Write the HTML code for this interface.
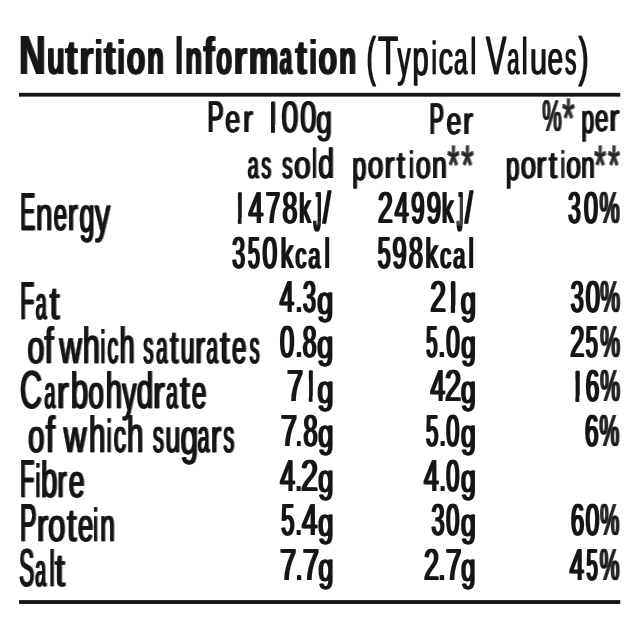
<!DOCTYPE html>
<html><head><meta charset="utf-8"><title>Nutrition Information</title>
<style>
html,body{margin:0;padding:0;background:#fff;}
body{width:640px;height:640px;overflow:hidden;}
svg{display:block;}
text{font-family:"Liberation Sans",sans-serif;fill:#171515;font-kerning:none;letter-spacing:0;white-space:pre;text-rendering:geometricPrecision;}
text.b{font-weight:700;}
text.r{font-weight:400;}
rect{fill:#171515;}
rect.w{fill:#fff;}
</style></head><body>
<svg width="640" height="640" viewBox="0 0 640 640">
<defs><filter id="fhd" filterUnits="userSpaceOnUse" x="0" y="0" width="640" height="640" color-interpolation-filters="sRGB"><feOffset in="SourceGraphic" dx="1" dy="0" result="o1"/><feOffset in="SourceGraphic" dx="2" dy="0" result="p"/><feComponentTransfer in="p" result="pa"><feFuncA type="linear" slope="0.60"/></feComponentTransfer><feMerge><feMergeNode in="pa"/><feMergeNode in="o1"/><feMergeNode in="SourceGraphic"/></feMerge></filter><filter id="flb" filterUnits="userSpaceOnUse" x="0" y="0" width="640" height="640" color-interpolation-filters="sRGB"><feOffset in="SourceGraphic" dx="1" dy="0" result="o1"/><feOffset in="SourceGraphic" dx="2" dy="0" result="p"/><feComponentTransfer in="p" result="pa"><feFuncA type="linear" slope="0.50"/></feComponentTransfer><feMerge><feMergeNode in="pa"/><feMergeNode in="o1"/><feMergeNode in="SourceGraphic"/></feMerge></filter><filter id="fnm" filterUnits="userSpaceOnUse" x="0" y="0" width="640" height="640" color-interpolation-filters="sRGB"><feOffset in="SourceGraphic" dx="1" dy="0" result="o1"/><feOffset in="SourceGraphic" dx="2" dy="0" result="o2"/><feMerge><feMergeNode in="o1"/><feMergeNode in="o2"/><feMergeNode in="SourceGraphic"/></feMerge></filter><filter id="ftb" filterUnits="userSpaceOnUse" x="0" y="0" width="640" height="640" color-interpolation-filters="sRGB"><feOffset in="SourceGraphic" dx="1" dy="0" result="o1"/><feOffset in="SourceGraphic" dx="2" dy="0" result="p"/><feComponentTransfer in="p" result="pa"><feFuncA type="linear" slope="0.80"/></feComponentTransfer><feMerge><feMergeNode in="pa"/><feMergeNode in="o1"/><feMergeNode in="SourceGraphic"/></feMerge></filter><filter id="ftr" filterUnits="userSpaceOnUse" x="0" y="0" width="640" height="640" color-interpolation-filters="sRGB"><feOffset in="SourceGraphic" dx="1" dy="0" result="o1"/><feMerge><feMergeNode in="o1"/><feMergeNode in="SourceGraphic"/></feMerge></filter></defs>
<rect x="19" y="92.85" width="601.25" height="3.8000000000000114"/><rect x="19" y="600.1" width="601.25" height="3.8500000000000227"/>
<text class="b" filter="url(#ftb)"><tspan x="18.14" y="74.10" font-size="55.23" textLength="26.53" lengthAdjust="spacingAndGlyphs">N</tspan><tspan x="46.32" y="74.10" font-size="48.46" textLength="17.52" lengthAdjust="spacingAndGlyphs">u</tspan><tspan x="64.55" y="74.10" font-size="48.46" textLength="12.19" lengthAdjust="spacingAndGlyphs">t</tspan><tspan x="78.17" y="74.10" font-size="48.46" textLength="14.34" lengthAdjust="spacingAndGlyphs">r</tspan><tspan x="94.12" y="74.10" font-size="48.46" textLength="7.49" lengthAdjust="spacingAndGlyphs">i</tspan><tspan x="103.07" y="74.10" font-size="48.46" textLength="11.82" lengthAdjust="spacingAndGlyphs">t</tspan><tspan x="116.62" y="74.10" font-size="48.46" textLength="7.49" lengthAdjust="spacingAndGlyphs">i</tspan><tspan x="125.70" y="74.10" font-size="48.46" textLength="18.69" lengthAdjust="spacingAndGlyphs">o</tspan><tspan x="146.30" y="74.10" font-size="48.46" textLength="16.70" lengthAdjust="spacingAndGlyphs">n</tspan> <tspan x="174.95" y="74.10" font-size="55.23" textLength="6.45" lengthAdjust="spacingAndGlyphs">I</tspan><tspan x="184.45" y="74.10" font-size="48.46" textLength="16.70" lengthAdjust="spacingAndGlyphs">n</tspan><tspan x="202.52" y="74.10" font-size="52.44" textLength="11.21" lengthAdjust="spacingAndGlyphs">f</tspan><tspan x="215.23" y="74.10" font-size="48.46" textLength="15.88" lengthAdjust="spacingAndGlyphs">o</tspan><tspan x="232.71" y="74.10" font-size="48.46" textLength="13.51" lengthAdjust="spacingAndGlyphs">r</tspan><tspan x="247.77" y="74.10" font-size="48.46" textLength="30.02" lengthAdjust="spacingAndGlyphs">m</tspan><tspan x="278.75" y="74.10" font-size="48.46" textLength="12.41" lengthAdjust="spacingAndGlyphs">a</tspan><tspan x="294.58" y="74.10" font-size="48.46" textLength="11.55" lengthAdjust="spacingAndGlyphs">t</tspan><tspan x="308.54" y="74.10" font-size="48.46" textLength="7.39" lengthAdjust="spacingAndGlyphs">i</tspan><tspan x="317.55" y="74.10" font-size="48.46" textLength="18.75" lengthAdjust="spacingAndGlyphs">o</tspan><tspan x="338.16" y="74.10" font-size="48.46" textLength="17.01" lengthAdjust="spacingAndGlyphs">n</tspan></text>
<text class="r" stroke="#171515" stroke-width="0.3" stroke-linejoin="round" filter="url(#ftr)"><tspan x="365.91" y="75.22" font-size="53.99" textLength="9.36" lengthAdjust="spacingAndGlyphs">(</tspan><tspan x="377.51" y="73.95" font-size="54.07" textLength="20.20" lengthAdjust="spacingAndGlyphs">T</tspan><tspan x="396.99" y="75.28" font-size="50.69" textLength="13.17" lengthAdjust="spacingAndGlyphs">y</tspan><tspan x="412.03" y="75.41" font-size="50.06" textLength="16.14" lengthAdjust="spacingAndGlyphs">p</tspan><tspan x="430.91" y="73.95" font-size="46.37" textLength="5.43" lengthAdjust="spacingAndGlyphs">i</tspan><tspan x="438.33" y="73.95" font-size="46.37" textLength="14.38" lengthAdjust="spacingAndGlyphs">c</tspan><tspan x="453.52" y="73.95" font-size="46.37" textLength="13.43" lengthAdjust="spacingAndGlyphs">a</tspan><tspan x="470.07" y="73.95" font-size="51.34" textLength="5.69" lengthAdjust="spacingAndGlyphs">l</tspan> <tspan x="485.62" y="73.95" font-size="54.07" textLength="20.27" lengthAdjust="spacingAndGlyphs">V</tspan><tspan x="506.72" y="73.95" font-size="46.37" textLength="12.13" lengthAdjust="spacingAndGlyphs">a</tspan><tspan x="521.29" y="73.95" font-size="51.34" textLength="5.81" lengthAdjust="spacingAndGlyphs">l</tspan><tspan x="529.40" y="73.95" font-size="46.37" textLength="17.09" lengthAdjust="spacingAndGlyphs">u</tspan><tspan x="547.06" y="73.95" font-size="46.37" textLength="15.53" lengthAdjust="spacingAndGlyphs">e</tspan><tspan x="564.51" y="73.95" font-size="46.37" textLength="11.41" lengthAdjust="spacingAndGlyphs">s</tspan><tspan x="578.07" y="75.22" font-size="53.99" textLength="10.17" lengthAdjust="spacingAndGlyphs">)</tspan></text>
<text class="r" stroke="#171515" stroke-width="0.2" stroke-linejoin="round" filter="url(#fhd)"><tspan x="206.63" y="131.80" font-size="44.19" textLength="16.04" lengthAdjust="spacingAndGlyphs">P</tspan><tspan x="224.56" y="131.80" font-size="38.42" textLength="14.93" lengthAdjust="spacingAndGlyphs">e</tspan><tspan x="242.21" y="131.80" font-size="38.42" textLength="9.98" lengthAdjust="spacingAndGlyphs">r</tspan> <tspan x="267.54" y="130.53" font-size="40.49" textLength="9.01" lengthAdjust="spacingAndGlyphs" stroke="#171515" stroke-width="3.07">1</tspan><tspan x="280.82" y="131.80" font-size="44.19" textLength="16.75" lengthAdjust="spacingAndGlyphs">0</tspan><tspan x="299.57" y="131.80" font-size="44.19" textLength="16.11" lengthAdjust="spacingAndGlyphs">0</tspan><tspan x="315.42" y="132.59" font-size="40.05" textLength="15.58" lengthAdjust="spacingAndGlyphs">g</tspan></text>
<text class="r" stroke="#171515" stroke-width="0.2" stroke-linejoin="round" filter="url(#fhd)"><tspan x="428.84" y="133.50" font-size="44.19" textLength="14.35" lengthAdjust="spacingAndGlyphs">P</tspan><tspan x="445.86" y="133.50" font-size="38.42" textLength="14.87" lengthAdjust="spacingAndGlyphs">e</tspan><tspan x="462.21" y="133.50" font-size="38.42" textLength="9.98" lengthAdjust="spacingAndGlyphs">r</tspan></text>
<text class="r" stroke="#171515" stroke-width="0.2" stroke-linejoin="round" filter="url(#fhd)"><tspan x="541.52" y="131.30" font-size="44.19" textLength="19.46" lengthAdjust="spacingAndGlyphs" fill-opacity="0.85">%</tspan><tspan x="561.49" y="138.39" font-size="56.97" textLength="12.30" lengthAdjust="spacingAndGlyphs" fill-opacity="0.65">*</tspan> <tspan x="580.74" y="133.12" font-size="41.34" textLength="12.61" lengthAdjust="spacingAndGlyphs">p</tspan><tspan x="594.18" y="131.30" font-size="38.42" textLength="13.39" lengthAdjust="spacingAndGlyphs">e</tspan><tspan x="608.41" y="131.30" font-size="38.42" textLength="9.98" lengthAdjust="spacingAndGlyphs">r</tspan></text>
<text class="r" stroke="#171515" stroke-width="0.2" stroke-linejoin="round" filter="url(#fhd)"><tspan x="247.02" y="178.20" font-size="38.42" textLength="10.88" lengthAdjust="spacingAndGlyphs">a</tspan><tspan x="260.67" y="178.20" font-size="38.42" textLength="9.52" lengthAdjust="spacingAndGlyphs">s</tspan> <tspan x="281.43" y="178.20" font-size="38.42" textLength="10.32" lengthAdjust="spacingAndGlyphs">s</tspan><tspan x="293.22" y="178.20" font-size="38.42" textLength="16.67" lengthAdjust="spacingAndGlyphs">o</tspan><tspan x="311.64" y="178.20" font-size="41.95" textLength="3.91" lengthAdjust="spacingAndGlyphs">l</tspan><tspan x="317.61" y="178.20" font-size="41.95" textLength="15.71" lengthAdjust="spacingAndGlyphs">d</tspan></text>
<text class="r" stroke="#171515" stroke-width="0.2" stroke-linejoin="round" filter="url(#fhd)"><tspan x="351.57" y="180.02" font-size="41.34" textLength="14.04" lengthAdjust="spacingAndGlyphs">p</tspan><tspan x="367.03" y="178.20" font-size="38.42" textLength="15.55" lengthAdjust="spacingAndGlyphs">o</tspan><tspan x="383.76" y="178.20" font-size="38.42" textLength="9.98" lengthAdjust="spacingAndGlyphs">r</tspan><tspan x="395.90" y="178.20" font-size="38.42" textLength="8.21" lengthAdjust="spacingAndGlyphs">t</tspan><tspan x="408.76" y="178.20" font-size="38.42" textLength="3.79" lengthAdjust="spacingAndGlyphs">i</tspan><tspan x="415.07" y="178.20" font-size="38.42" textLength="14.96" lengthAdjust="spacingAndGlyphs">o</tspan><tspan x="431.33" y="178.20" font-size="38.42" textLength="14.79" lengthAdjust="spacingAndGlyphs">n</tspan><tspan x="446.81" y="185.29" font-size="56.97" textLength="11.76" lengthAdjust="spacingAndGlyphs" fill-opacity="0.65">*</tspan><tspan x="460.49" y="185.29" font-size="56.97" textLength="12.30" lengthAdjust="spacingAndGlyphs" fill-opacity="0.65">*</tspan></text>
<text class="r" stroke="#171515" stroke-width="0.2" stroke-linejoin="round" filter="url(#fhd)"><tspan x="505.35" y="180.02" font-size="41.34" textLength="13.36" lengthAdjust="spacingAndGlyphs">p</tspan><tspan x="519.94" y="178.20" font-size="38.42" textLength="15.31" lengthAdjust="spacingAndGlyphs">o</tspan><tspan x="535.61" y="178.20" font-size="38.42" textLength="9.98" lengthAdjust="spacingAndGlyphs">r</tspan><tspan x="548.02" y="178.20" font-size="38.42" textLength="8.33" lengthAdjust="spacingAndGlyphs">t</tspan><tspan x="560.26" y="178.20" font-size="38.42" textLength="3.59" lengthAdjust="spacingAndGlyphs">i</tspan><tspan x="565.49" y="178.20" font-size="38.42" textLength="14.72" lengthAdjust="spacingAndGlyphs">o</tspan><tspan x="580.41" y="178.20" font-size="38.42" textLength="13.35" lengthAdjust="spacingAndGlyphs">n</tspan><tspan x="593.51" y="185.29" font-size="56.97" textLength="11.76" lengthAdjust="spacingAndGlyphs" fill-opacity="0.65">*</tspan><tspan x="607.21" y="185.29" font-size="56.97" textLength="11.76" lengthAdjust="spacingAndGlyphs" fill-opacity="0.65">*</tspan></text>
<text class="r" stroke="#171515" stroke-width="0.4" stroke-linejoin="round" filter="url(#flb)"><tspan x="19.45" y="229.70" font-size="53.49" textLength="15.01" lengthAdjust="spacingAndGlyphs">E</tspan><tspan x="35.22" y="229.70" font-size="46.56" textLength="16.56" lengthAdjust="spacingAndGlyphs">n</tspan><tspan x="53.09" y="229.70" font-size="46.56" textLength="13.27" lengthAdjust="spacingAndGlyphs">e</tspan><tspan x="67.11" y="229.70" font-size="46.56" textLength="9.99" lengthAdjust="spacingAndGlyphs">r</tspan><tspan x="78.77" y="231.71" font-size="49.59" textLength="15.03" lengthAdjust="spacingAndGlyphs">g</tspan><tspan x="94.33" y="231.65" font-size="49.87" textLength="15.13" lengthAdjust="spacingAndGlyphs">y</tspan></text>
<text class="r" stroke="#171515" stroke-width="0.2" stroke-linejoin="round" filter="url(#fnm)"><tspan x="233.67" y="222.99" font-size="43.87" textLength="9.76" lengthAdjust="spacingAndGlyphs" stroke="#171515" stroke-width="0.89">1</tspan><tspan x="247.49" y="223.30" font-size="44.77" textLength="14.79" lengthAdjust="spacingAndGlyphs">4</tspan><tspan x="264.77" y="223.30" font-size="44.77" textLength="14.44" lengthAdjust="spacingAndGlyphs">7</tspan><tspan x="281.44" y="223.30" font-size="44.77" textLength="14.82" lengthAdjust="spacingAndGlyphs">8</tspan><tspan x="298.23" y="223.30" font-size="42.51" textLength="11.63" lengthAdjust="spacingAndGlyphs">k</tspan><tspan x="312.67" y="231.25" font-size="56.18" textLength="7.31" lengthAdjust="spacingAndGlyphs">J</tspan><tspan x="321.90" y="223.30" font-size="44.77" textLength="7.60" lengthAdjust="spacingAndGlyphs">/</tspan></text>
<text class="r" stroke="#171515" stroke-width="0.2" stroke-linejoin="round" filter="url(#fnm)"><tspan x="376.96" y="223.30" font-size="44.77" textLength="14.77" lengthAdjust="spacingAndGlyphs">2</tspan><tspan x="393.63" y="223.30" font-size="44.77" textLength="13.91" lengthAdjust="spacingAndGlyphs">4</tspan><tspan x="410.28" y="223.30" font-size="44.77" textLength="13.24" lengthAdjust="spacingAndGlyphs">9</tspan><tspan x="425.80" y="223.30" font-size="44.77" textLength="14.21" lengthAdjust="spacingAndGlyphs">9</tspan><tspan x="441.03" y="223.30" font-size="42.51" textLength="11.63" lengthAdjust="spacingAndGlyphs">k</tspan><tspan x="456.33" y="231.25" font-size="56.18" textLength="5.36" lengthAdjust="spacingAndGlyphs">J</tspan><tspan x="463.90" y="223.30" font-size="44.77" textLength="7.60" lengthAdjust="spacingAndGlyphs">/</tspan></text>
<text class="r" stroke="#171515" stroke-width="0.2" stroke-linejoin="round" filter="url(#fnm)"><tspan x="567.36" y="223.30" font-size="44.77" textLength="12.32" lengthAdjust="spacingAndGlyphs">3</tspan><tspan x="583.02" y="223.30" font-size="44.77" textLength="13.96" lengthAdjust="spacingAndGlyphs">0</tspan><tspan x="598.39" y="223.30" font-size="44.77" textLength="20.22" lengthAdjust="spacingAndGlyphs" fill-opacity="0.85">%</tspan></text>
<text class="r" stroke="#171515" stroke-width="0.2" stroke-linejoin="round" filter="url(#fnm)"><tspan x="231.32" y="267.84" font-size="44.77" textLength="12.79" lengthAdjust="spacingAndGlyphs">3</tspan><tspan x="246.95" y="267.84" font-size="44.77" textLength="11.85" lengthAdjust="spacingAndGlyphs">5</tspan><tspan x="261.47" y="267.84" font-size="44.77" textLength="14.66" lengthAdjust="spacingAndGlyphs">0</tspan><tspan x="279.71" y="267.84" font-size="42.51" textLength="12.56" lengthAdjust="spacingAndGlyphs">k</tspan><tspan x="294.38" y="267.84" font-size="36.91" textLength="10.79" lengthAdjust="spacingAndGlyphs">c</tspan><tspan x="307.50" y="267.84" font-size="36.91" textLength="11.80" lengthAdjust="spacingAndGlyphs">a</tspan><tspan x="323.74" y="267.84" font-size="42.51" textLength="4.80" lengthAdjust="spacingAndGlyphs">l</tspan></text>
<text class="r" stroke="#171515" stroke-width="0.2" stroke-linejoin="round" filter="url(#fnm)"><tspan x="376.87" y="267.84" font-size="44.77" textLength="12.90" lengthAdjust="spacingAndGlyphs">5</tspan><tspan x="391.41" y="267.84" font-size="44.77" textLength="14.09" lengthAdjust="spacingAndGlyphs">9</tspan><tspan x="407.92" y="267.84" font-size="44.77" textLength="13.87" lengthAdjust="spacingAndGlyphs">8</tspan><tspan x="424.51" y="267.84" font-size="42.51" textLength="12.56" lengthAdjust="spacingAndGlyphs">k</tspan><tspan x="439.18" y="267.84" font-size="36.91" textLength="10.79" lengthAdjust="spacingAndGlyphs">c</tspan><tspan x="452.29" y="267.84" font-size="36.91" textLength="11.91" lengthAdjust="spacingAndGlyphs">a</tspan><tspan x="467.74" y="267.84" font-size="42.51" textLength="4.80" lengthAdjust="spacingAndGlyphs">l</tspan></text>
<text class="r" stroke="#171515" stroke-width="0.4" stroke-linejoin="round" filter="url(#flb)"><tspan x="19.42" y="318.70" font-size="53.49" textLength="14.00" lengthAdjust="spacingAndGlyphs">F</tspan><tspan x="34.90" y="318.70" font-size="46.56" textLength="10.88" lengthAdjust="spacingAndGlyphs">a</tspan><tspan x="48.66" y="318.70" font-size="46.56" textLength="10.09" lengthAdjust="spacingAndGlyphs">t</tspan></text>
<text class="r" stroke="#171515" stroke-width="0.2" stroke-linejoin="round" filter="url(#fnm)"><tspan x="278.71" y="312.38" font-size="44.77" textLength="14.24" lengthAdjust="spacingAndGlyphs">4</tspan><tspan x="294.69" y="312.38" font-size="44.77" textLength="6.42" lengthAdjust="spacingAndGlyphs">.</tspan><tspan x="302.02" y="312.38" font-size="44.77" textLength="12.90" lengthAdjust="spacingAndGlyphs">3</tspan><tspan x="316.20" y="313.67" font-size="40.05" textLength="15.95" lengthAdjust="spacingAndGlyphs">g</tspan></text>
<text class="r" stroke="#171515" stroke-width="0.2" stroke-linejoin="round" filter="url(#fnm)"><tspan x="429.18" y="312.38" font-size="44.77" textLength="15.75" lengthAdjust="spacingAndGlyphs">2</tspan><tspan x="447.22" y="311.20" font-size="41.33" textLength="9.19" lengthAdjust="spacingAndGlyphs" stroke="#171515" stroke-width="2.87">1</tspan><tspan x="459.65" y="313.67" font-size="40.05" textLength="15.21" lengthAdjust="spacingAndGlyphs">g</tspan></text>
<text class="r" stroke="#171515" stroke-width="0.2" stroke-linejoin="round" filter="url(#fnm)"><tspan x="569.72" y="312.38" font-size="44.77" textLength="12.90" lengthAdjust="spacingAndGlyphs">3</tspan><tspan x="584.70" y="312.38" font-size="44.77" textLength="14.19" lengthAdjust="spacingAndGlyphs">0</tspan><tspan x="599.31" y="312.38" font-size="44.77" textLength="19.79" lengthAdjust="spacingAndGlyphs" fill-opacity="0.85">%</tspan></text>
<text class="r" stroke="#171515" stroke-width="0.4" stroke-linejoin="round" filter="url(#flb)"><tspan x="26.67" y="363.30" font-size="46.56" textLength="16.90" lengthAdjust="spacingAndGlyphs">o</tspan><tspan x="43.74" y="363.30" font-size="50.79" textLength="9.12" lengthAdjust="spacingAndGlyphs">f</tspan> <tspan x="58.65" y="363.30" font-size="46.56" textLength="22.33" lengthAdjust="spacingAndGlyphs">w</tspan><tspan x="82.06" y="363.30" font-size="50.79" textLength="17.14" lengthAdjust="spacingAndGlyphs">h</tspan><tspan x="99.88" y="363.30" font-size="46.56" textLength="4.34" lengthAdjust="spacingAndGlyphs">i</tspan><tspan x="106.78" y="363.30" font-size="46.56" textLength="10.84" lengthAdjust="spacingAndGlyphs">c</tspan><tspan x="118.95" y="363.30" font-size="50.79" textLength="14.83" lengthAdjust="spacingAndGlyphs">h</tspan> <tspan x="142.74" y="363.30" font-size="46.56" textLength="10.03" lengthAdjust="spacingAndGlyphs">s</tspan><tspan x="155.59" y="363.30" font-size="46.56" textLength="11.31" lengthAdjust="spacingAndGlyphs">a</tspan><tspan x="169.14" y="363.30" font-size="46.56" textLength="8.38" lengthAdjust="spacingAndGlyphs">t</tspan><tspan x="179.98" y="363.30" font-size="46.56" textLength="13.88" lengthAdjust="spacingAndGlyphs">u</tspan><tspan x="194.47" y="363.30" font-size="46.56" textLength="9.92" lengthAdjust="spacingAndGlyphs">r</tspan><tspan x="205.72" y="363.30" font-size="46.56" textLength="11.48" lengthAdjust="spacingAndGlyphs">a</tspan><tspan x="219.37" y="363.30" font-size="46.56" textLength="9.79" lengthAdjust="spacingAndGlyphs">t</tspan><tspan x="231.30" y="363.30" font-size="46.56" textLength="14.40" lengthAdjust="spacingAndGlyphs">e</tspan><tspan x="248.89" y="363.30" font-size="46.56" textLength="9.78" lengthAdjust="spacingAndGlyphs">s</tspan></text>
<text class="r" stroke="#171515" stroke-width="0.2" stroke-linejoin="round" filter="url(#fnm)"><tspan x="279.00" y="356.92" font-size="44.77" textLength="14.19" lengthAdjust="spacingAndGlyphs">0</tspan><tspan x="294.69" y="356.92" font-size="44.77" textLength="6.42" lengthAdjust="spacingAndGlyphs">.</tspan><tspan x="301.83" y="356.92" font-size="44.77" textLength="13.75" lengthAdjust="spacingAndGlyphs">8</tspan><tspan x="316.20" y="358.21" font-size="40.05" textLength="15.95" lengthAdjust="spacingAndGlyphs">g</tspan></text>
<text class="r" stroke="#171515" stroke-width="0.2" stroke-linejoin="round" filter="url(#fnm)"><tspan x="425.19" y="356.92" font-size="44.77" textLength="11.26" lengthAdjust="spacingAndGlyphs">5</tspan><tspan x="437.59" y="356.92" font-size="44.77" textLength="6.71" lengthAdjust="spacingAndGlyphs">.</tspan><tspan x="445.35" y="356.92" font-size="44.77" textLength="13.50" lengthAdjust="spacingAndGlyphs">0</tspan><tspan x="460.31" y="358.21" font-size="40.05" textLength="14.47" lengthAdjust="spacingAndGlyphs">g</tspan></text>
<text class="r" stroke="#171515" stroke-width="0.2" stroke-linejoin="round" filter="url(#fnm)"><tspan x="569.32" y="356.92" font-size="44.77" textLength="14.16" lengthAdjust="spacingAndGlyphs">2</tspan><tspan x="584.83" y="356.92" font-size="44.77" textLength="12.08" lengthAdjust="spacingAndGlyphs">5</tspan><tspan x="599.31" y="356.92" font-size="44.77" textLength="19.79" lengthAdjust="spacingAndGlyphs" fill-opacity="0.85">%</tspan></text>
<text class="r" stroke="#171515" stroke-width="0.4" stroke-linejoin="round" filter="url(#flb)"><tspan x="19.24" y="407.70" font-size="53.49" textLength="22.12" lengthAdjust="spacingAndGlyphs">C</tspan><tspan x="43.72" y="407.70" font-size="46.56" textLength="10.88" lengthAdjust="spacingAndGlyphs">a</tspan><tspan x="56.05" y="407.70" font-size="46.56" textLength="12.09" lengthAdjust="spacingAndGlyphs">r</tspan><tspan x="70.06" y="407.70" font-size="50.79" textLength="17.56" lengthAdjust="spacingAndGlyphs">b</tspan><tspan x="87.84" y="407.70" font-size="46.56" textLength="15.37" lengthAdjust="spacingAndGlyphs">o</tspan><tspan x="105.05" y="407.70" font-size="50.79" textLength="16.41" lengthAdjust="spacingAndGlyphs">h</tspan><tspan x="121.38" y="409.65" font-size="49.87" textLength="14.17" lengthAdjust="spacingAndGlyphs">y</tspan><tspan x="135.95" y="407.70" font-size="50.79" textLength="16.57" lengthAdjust="spacingAndGlyphs">d</tspan><tspan x="152.14" y="407.70" font-size="46.56" textLength="11.86" lengthAdjust="spacingAndGlyphs">r</tspan><tspan x="165.62" y="407.70" font-size="46.56" textLength="11.58" lengthAdjust="spacingAndGlyphs">a</tspan><tspan x="179.17" y="407.70" font-size="46.56" textLength="9.79" lengthAdjust="spacingAndGlyphs">t</tspan><tspan x="190.88" y="407.70" font-size="46.56" textLength="14.70" lengthAdjust="spacingAndGlyphs">e</tspan></text>
<text class="r" stroke="#171515" stroke-width="0.2" stroke-linejoin="round" filter="url(#fnm)"><tspan x="286.11" y="401.46" font-size="44.77" textLength="16.15" lengthAdjust="spacingAndGlyphs">7</tspan><tspan x="304.66" y="401.03" font-size="43.51" textLength="9.68" lengthAdjust="spacingAndGlyphs" stroke="#171515" stroke-width="1.18">1</tspan><tspan x="316.60" y="402.75" font-size="40.05" textLength="15.95" lengthAdjust="spacingAndGlyphs">g</tspan></text>
<text class="r" stroke="#171515" stroke-width="0.2" stroke-linejoin="round" filter="url(#fnm)"><tspan x="429.50" y="401.46" font-size="44.77" textLength="14.57" lengthAdjust="spacingAndGlyphs">4</tspan><tspan x="444.03" y="401.46" font-size="44.77" textLength="16.24" lengthAdjust="spacingAndGlyphs">2</tspan><tspan x="459.89" y="402.75" font-size="40.05" textLength="14.72" lengthAdjust="spacingAndGlyphs">g</tspan></text>
<text class="r" stroke="#171515" stroke-width="0.2" stroke-linejoin="round" filter="url(#fnm)"><tspan x="571.44" y="400.78" font-size="42.78" textLength="9.52" lengthAdjust="spacingAndGlyphs" stroke="#171515" stroke-width="1.74">1</tspan><tspan x="584.77" y="401.46" font-size="44.77" textLength="13.50" lengthAdjust="spacingAndGlyphs">6</tspan><tspan x="599.31" y="401.46" font-size="44.77" textLength="19.79" lengthAdjust="spacingAndGlyphs" fill-opacity="0.85">%</tspan></text>
<text class="r" stroke="#171515" stroke-width="0.4" stroke-linejoin="round" filter="url(#flb)"><tspan x="27.38" y="452.00" font-size="46.56" textLength="16.14" lengthAdjust="spacingAndGlyphs">o</tspan><tspan x="44.98" y="452.00" font-size="50.79" textLength="9.17" lengthAdjust="spacingAndGlyphs">f</tspan> <tspan x="63.00" y="452.00" font-size="46.56" textLength="22.73" lengthAdjust="spacingAndGlyphs">w</tspan><tspan x="88.15" y="452.00" font-size="50.79" textLength="16.48" lengthAdjust="spacingAndGlyphs">h</tspan><tspan x="106.16" y="452.00" font-size="46.56" textLength="4.34" lengthAdjust="spacingAndGlyphs">i</tspan><tspan x="112.91" y="452.00" font-size="46.56" textLength="12.29" lengthAdjust="spacingAndGlyphs">c</tspan><tspan x="126.25" y="452.00" font-size="50.79" textLength="16.48" lengthAdjust="spacingAndGlyphs">h</tspan> <tspan x="152.19" y="452.00" font-size="46.56" textLength="10.89" lengthAdjust="spacingAndGlyphs">s</tspan><tspan x="164.66" y="452.00" font-size="46.56" textLength="14.92" lengthAdjust="spacingAndGlyphs">u</tspan><tspan x="179.76" y="454.01" font-size="49.59" textLength="17.68" lengthAdjust="spacingAndGlyphs">g</tspan><tspan x="197.11" y="452.00" font-size="46.56" textLength="11.69" lengthAdjust="spacingAndGlyphs">a</tspan><tspan x="210.00" y="452.00" font-size="46.56" textLength="10.52" lengthAdjust="spacingAndGlyphs">r</tspan><tspan x="222.70" y="452.00" font-size="46.56" textLength="10.78" lengthAdjust="spacingAndGlyphs">s</tspan></text>
<text class="r" stroke="#171515" stroke-width="0.2" stroke-linejoin="round" filter="url(#fnm)"><tspan x="279.70" y="446.00" font-size="44.77" textLength="16.27" lengthAdjust="spacingAndGlyphs">7</tspan><tspan x="295.17" y="446.00" font-size="44.77" textLength="5.25" lengthAdjust="spacingAndGlyphs">.</tspan><tspan x="302.60" y="446.00" font-size="44.77" textLength="14.10" lengthAdjust="spacingAndGlyphs">8</tspan><tspan x="317.36" y="447.29" font-size="40.05" textLength="15.09" lengthAdjust="spacingAndGlyphs">g</tspan></text>
<text class="r" stroke="#171515" stroke-width="0.2" stroke-linejoin="round" filter="url(#fnm)"><tspan x="424.91" y="446.00" font-size="44.77" textLength="12.32" lengthAdjust="spacingAndGlyphs">5</tspan><tspan x="438.68" y="446.00" font-size="44.77" textLength="5.84" lengthAdjust="spacingAndGlyphs">.</tspan><tspan x="445.28" y="446.00" font-size="44.77" textLength="13.03" lengthAdjust="spacingAndGlyphs">0</tspan><tspan x="459.89" y="447.29" font-size="40.05" textLength="14.72" lengthAdjust="spacingAndGlyphs">g</tspan></text>
<text class="r" stroke="#171515" stroke-width="0.2" stroke-linejoin="round" filter="url(#fnm)"><tspan x="584.07" y="446.00" font-size="44.77" textLength="13.50" lengthAdjust="spacingAndGlyphs">6</tspan><tspan x="598.61" y="446.00" font-size="44.77" textLength="19.79" lengthAdjust="spacingAndGlyphs" fill-opacity="0.85">%</tspan></text>
<text class="r" stroke="#171515" stroke-width="0.4" stroke-linejoin="round" filter="url(#flb)"><tspan x="19.17" y="496.60" font-size="53.49" textLength="14.37" lengthAdjust="spacingAndGlyphs">F</tspan><tspan x="34.93" y="496.60" font-size="46.56" textLength="4.34" lengthAdjust="spacingAndGlyphs">i</tspan><tspan x="40.29" y="496.60" font-size="50.79" textLength="16.45" lengthAdjust="spacingAndGlyphs">b</tspan><tspan x="56.77" y="496.60" font-size="46.56" textLength="9.19" lengthAdjust="spacingAndGlyphs">r</tspan><tspan x="67.89" y="496.60" font-size="46.56" textLength="15.88" lengthAdjust="spacingAndGlyphs">e</tspan></text>
<text class="r" stroke="#171515" stroke-width="0.2" stroke-linejoin="round" filter="url(#fnm)"><tspan x="279.19" y="490.54" font-size="44.77" textLength="14.68" lengthAdjust="spacingAndGlyphs">4</tspan><tspan x="294.78" y="490.54" font-size="44.77" textLength="5.84" lengthAdjust="spacingAndGlyphs">.</tspan><tspan x="300.05" y="490.54" font-size="44.77" textLength="17.09" lengthAdjust="spacingAndGlyphs">2</tspan><tspan x="317.36" y="491.83" font-size="40.05" textLength="15.09" lengthAdjust="spacingAndGlyphs">g</tspan></text>
<text class="r" stroke="#171515" stroke-width="0.2" stroke-linejoin="round" filter="url(#fnm)"><tspan x="423.09" y="490.54" font-size="44.77" textLength="14.68" lengthAdjust="spacingAndGlyphs">4</tspan><tspan x="438.68" y="490.54" font-size="44.77" textLength="5.84" lengthAdjust="spacingAndGlyphs">.</tspan><tspan x="445.28" y="490.54" font-size="44.77" textLength="13.03" lengthAdjust="spacingAndGlyphs">0</tspan><tspan x="459.89" y="491.83" font-size="40.05" textLength="14.72" lengthAdjust="spacingAndGlyphs">g</tspan></text>
<text class="r" stroke="#171515" stroke-width="0.4" stroke-linejoin="round" filter="url(#flb)"><tspan x="19.37" y="541.30" font-size="53.49" textLength="16.54" lengthAdjust="spacingAndGlyphs">P</tspan><tspan x="35.89" y="541.30" font-size="46.56" textLength="11.59" lengthAdjust="spacingAndGlyphs">r</tspan><tspan x="47.51" y="541.30" font-size="46.56" textLength="17.08" lengthAdjust="spacingAndGlyphs">o</tspan><tspan x="66.28" y="541.30" font-size="46.56" textLength="9.57" lengthAdjust="spacingAndGlyphs">t</tspan><tspan x="77.13" y="541.30" font-size="46.56" textLength="15.29" lengthAdjust="spacingAndGlyphs">e</tspan><tspan x="92.83" y="541.30" font-size="46.56" textLength="4.34" lengthAdjust="spacingAndGlyphs">i</tspan><tspan x="99.55" y="541.30" font-size="46.56" textLength="14.66" lengthAdjust="spacingAndGlyphs">n</tspan></text>
<text class="r" stroke="#171515" stroke-width="0.2" stroke-linejoin="round" filter="url(#fnm)"><tspan x="280.25" y="535.08" font-size="44.77" textLength="13.14" lengthAdjust="spacingAndGlyphs">5</tspan><tspan x="294.78" y="535.08" font-size="44.77" textLength="5.84" lengthAdjust="spacingAndGlyphs">.</tspan><tspan x="300.96" y="535.08" font-size="44.77" textLength="15.45" lengthAdjust="spacingAndGlyphs">4</tspan><tspan x="317.36" y="536.37" font-size="40.05" textLength="15.09" lengthAdjust="spacingAndGlyphs">g</tspan></text>
<text class="r" stroke="#171515" stroke-width="0.2" stroke-linejoin="round" filter="url(#fnm)"><tspan x="430.61" y="535.08" font-size="44.77" textLength="13.02" lengthAdjust="spacingAndGlyphs">3</tspan><tspan x="445.28" y="535.08" font-size="44.77" textLength="13.03" lengthAdjust="spacingAndGlyphs">0</tspan><tspan x="459.89" y="536.37" font-size="40.05" textLength="14.72" lengthAdjust="spacingAndGlyphs">g</tspan></text>
<text class="r" stroke="#171515" stroke-width="0.2" stroke-linejoin="round" filter="url(#fnm)"><tspan x="570.10" y="535.08" font-size="44.77" textLength="13.14" lengthAdjust="spacingAndGlyphs">6</tspan><tspan x="584.75" y="535.08" font-size="44.77" textLength="13.50" lengthAdjust="spacingAndGlyphs">0</tspan><tspan x="599.34" y="535.08" font-size="44.77" textLength="19.03" lengthAdjust="spacingAndGlyphs" fill-opacity="0.85">%</tspan></text>
<text class="r" stroke="#171515" stroke-width="0.4" stroke-linejoin="round" filter="url(#flb)"><tspan x="18.59" y="585.80" font-size="53.49" textLength="14.98" lengthAdjust="spacingAndGlyphs">S</tspan><tspan x="34.45" y="585.80" font-size="46.56" textLength="10.88" lengthAdjust="spacingAndGlyphs">a</tspan><tspan x="48.88" y="585.80" font-size="50.79" textLength="4.74" lengthAdjust="spacingAndGlyphs">l</tspan><tspan x="54.31" y="585.80" font-size="46.56" textLength="10.09" lengthAdjust="spacingAndGlyphs">t</tspan></text>
<text class="r" stroke="#171515" stroke-width="0.2" stroke-linejoin="round" filter="url(#fnm)"><tspan x="278.90" y="579.62" font-size="44.77" textLength="16.27" lengthAdjust="spacingAndGlyphs">7</tspan><tspan x="294.89" y="579.62" font-size="44.77" textLength="6.13" lengthAdjust="spacingAndGlyphs">.</tspan><tspan x="301.70" y="579.62" font-size="44.77" textLength="16.27" lengthAdjust="spacingAndGlyphs">7</tspan><tspan x="317.38" y="580.91" font-size="40.05" textLength="14.84" lengthAdjust="spacingAndGlyphs">g</tspan></text>
<text class="r" stroke="#171515" stroke-width="0.2" stroke-linejoin="round" filter="url(#fnm)"><tspan x="423.04" y="579.62" font-size="44.77" textLength="15.02" lengthAdjust="spacingAndGlyphs">2</tspan><tspan x="437.79" y="579.62" font-size="44.77" textLength="6.42" lengthAdjust="spacingAndGlyphs">.</tspan><tspan x="444.76" y="579.62" font-size="44.77" textLength="15.66" lengthAdjust="spacingAndGlyphs">7</tspan><tspan x="460.14" y="580.91" font-size="40.05" textLength="14.10" lengthAdjust="spacingAndGlyphs">g</tspan></text>
<text class="r" stroke="#171515" stroke-width="0.2" stroke-linejoin="round" filter="url(#fnm)"><tspan x="568.71" y="579.62" font-size="44.77" textLength="14.24" lengthAdjust="spacingAndGlyphs">4</tspan><tspan x="585.59" y="579.62" font-size="44.77" textLength="11.26" lengthAdjust="spacingAndGlyphs">5</tspan><tspan x="598.71" y="579.62" font-size="44.77" textLength="19.68" lengthAdjust="spacingAndGlyphs" fill-opacity="0.85">%</tspan></text>
<rect class="w" x="267.36" y="100.14" width="3.64" height="34.66"/><rect class="w" x="274.95" y="124.79" width="4.21" height="10.01"/><rect class="w" x="234.02" y="191.36" width="3.88" height="34.94"/><rect class="w" x="241.50" y="218.09" width="4.04" height="8.21"/><rect class="w" x="447.10" y="280.33" width="3.70" height="35.05"/><rect class="w" x="455.10" y="305.50" width="3.87" height="9.88"/><rect class="w" x="304.95" y="369.50" width="3.85" height="34.96"/><rect class="w" x="312.50" y="396.01" width="4.01" height="8.45"/><rect class="w" x="571.60" y="369.47" width="3.80" height="34.99"/><rect class="w" x="579.30" y="395.53" width="3.97" height="8.93"/>
</svg>
</body></html>
